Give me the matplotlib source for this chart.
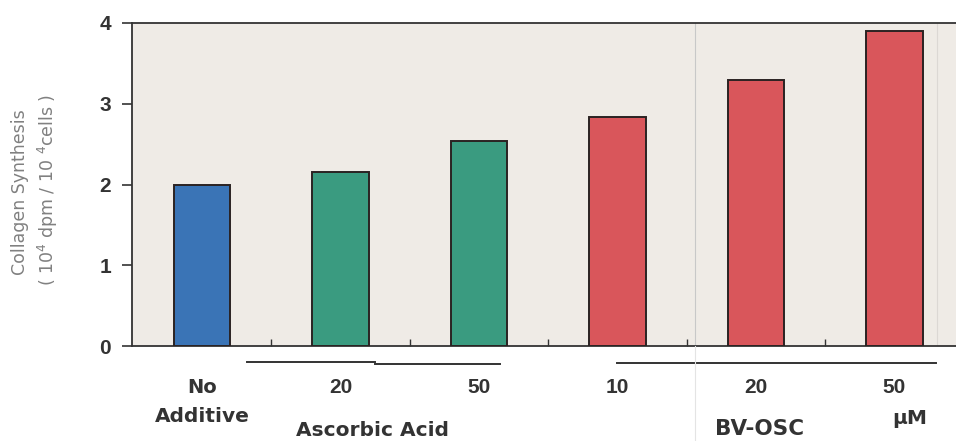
import matplotlib as mpl
import matplotlib.pyplot as plt
import matplotlib.transforms as mtransforms
import numpy as np

# --- data ---
GROUPS = ["No", "20", "50", "10", "20", "50"]
VALUES = [2.00, 2.16, 2.54, 2.84, 3.29, 3.90]
COLORS = ["#3a74b6", "#3a9b80", "#3a9b80", "#d9565b", "#d9565b", "#d9565b"]
Y_TICKS = [0, 1, 2, 3, 4]

mpl.rcParams["font.family"] = ["Liberation Sans", "DejaVu Sans"]

W, H = 956, 441
fig = plt.figure(figsize=(W / 100, H / 100), dpi=100)
fig.patch.set_facecolor("white")

# axes placed in pixels measured on the reference
left_px, right_px, top_px, bot_px = 132, 956, 23, 346
X0, DX = 202.0, 138.5  # centre of first bar and bar spacing, pixels
ax = fig.add_axes([left_px / W, 1 - bot_px / H, (right_px - left_px) / W, (bot_px - top_px) / H])
ax.set_facecolor("#efebe6")

x = np.arange(len(VALUES))
ax.bar(x, VALUES, width=0.41, color=COLORS, edgecolor="#2a2222", linewidth=1.4, zorder=3)

ax.set_xlim((left_px - X0) / DX, (right_px - X0) / DX)
ax.set_ylim(0, 4)

for s in ("left", "top", "bottom"):
    ax.spines[s].set_color("#333333")
    ax.spines[s].set_linewidth(1.3)
ax.spines["right"].set_visible(False)

ax.set_yticks(Y_TICKS)
ax.set_yticklabels([str(v) for v in Y_TICKS], fontsize=15, fontweight="bold", color="#333333")
ax.tick_params(axis="y", direction="out", length=7, width=1.2, color="#333333", pad=8)

ax.set_xticks(x)
ax.set_xticklabels(GROUPS, fontsize=15, fontweight="bold", color="#333333")
ax.tick_params(axis="x", which="major", length=0, pad=23)
ax.get_xticklabels()[0].set_family(["DejaVu Sans"])
ax.get_xticklabels()[0].set_fontsize(14)
ax.set_xticks(x[:-1] + 0.5, minor=True)
ax.tick_params(axis="x", which="minor", direction="in", length=5, width=1.0, color="#333333")


def fy(py):
    return 1 - py / H


def px(xp):
    return (xp - X0) / DX


# faint scan lines
ax.axvline(px(695), color="#c8c8c8", lw=0.8, zorder=1)
ax.axvline(px(937), color="#dcd8d4", lw=0.8, zorder=1)
fig.add_artist(plt.Line2D([695 / W, 695 / W], [0, 1 - bot_px / H], color="#e4e4e4", lw=0.8))

trans = mtransforms.blended_transform_factory(ax.transData, fig.transFigure)

txt = dict(fontweight="bold", color="#333333", transform=trans, family=["DejaVu Sans"],
           ha="center", va="center")
ax.text(px(202), fy(417), "Additive", fontsize=14.5, **txt)
ax.text(px(373), fy(430), "Ascorbic Acid", fontsize=14.5, **txt)
ax.text(px(760), fy(429), "BV-OSC", fontsize=15.5, **txt)
ax.text(px(910), fy(418), "\u00b5M", fontsize=14.5, **txt)


def hline(x0, x1, py, lw=1.4):
    ax.plot([px(x0), px(x1)], [fy(py)] * 2, color="#333333",
            lw=lw, transform=trans, clip_on=False)


hline(247, 375, 362)
hline(375, 500, 364)
hline(617, 936, 363)

# y label
lab = dict(rotation=90, ha="center", va="center", fontsize=12.5, color="#808080",
           family=["DejaVu Sans"])
fig.text(20 / W, fy(192), "Collagen Synthesis", **lab)
fig.text(48 / W, fy(190), "( 10$^4$ dpm / 10 $^4$cells )", **lab)

fig.savefig("out.png", dpi=100, facecolor="white")
